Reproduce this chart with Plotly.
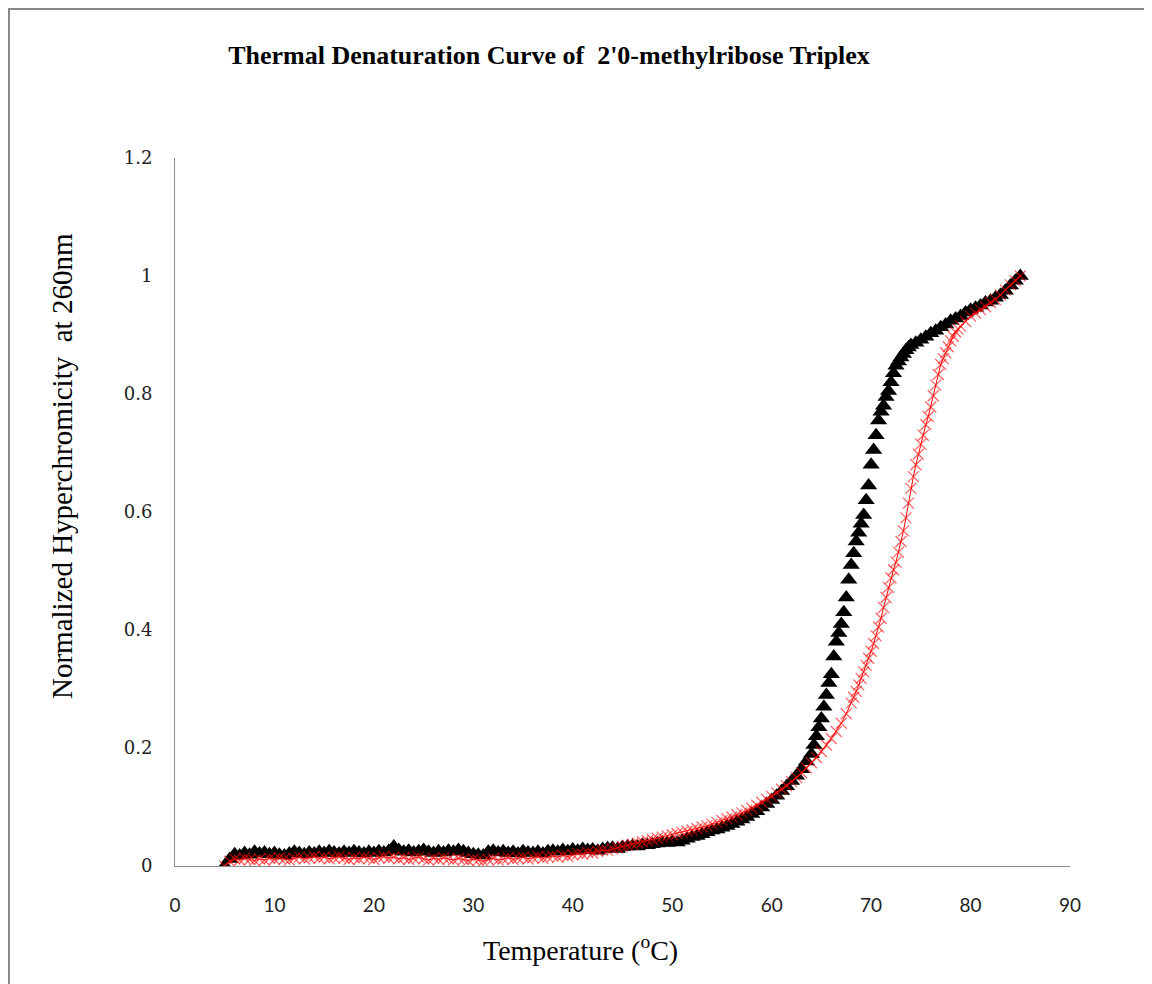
import plotly.graph_objects as go

# ---- Black triangles series ----
black_temp = [
    5.0, 5.5, 6.0, 6.5, 7.0, 7.5, 8.0, 8.5, 9.0, 9.5,
    10.0, 10.5, 11.0, 11.5, 12.0, 12.5, 13.0, 13.5, 14.0, 14.5,
    15.0, 15.5, 16.0, 16.5, 17.0, 17.5, 18.0, 18.5, 19.0, 19.5,
    20.0, 20.5, 21.0, 21.5, 22.0, 22.5, 23.0, 23.5, 24.0, 24.5,
    25.0, 25.5, 26.0, 26.5, 27.0, 27.5, 28.0, 28.5, 29.0, 29.5,
    30.0, 30.5, 31.0, 31.5, 32.0, 32.5, 33.0, 33.5, 34.0, 34.5,
    35.0, 35.5, 36.0, 36.5, 37.0, 37.5, 38.0, 38.5, 39.0, 39.5,
    40.0, 40.5, 41.0, 41.5, 42.0, 42.5, 43.0, 43.5, 44.0, 44.5,
    45.0, 45.5, 46.0, 46.5, 47.0, 47.5, 48.0, 48.5, 49.0, 49.5,
    50.0, 50.5, 51.0, 51.5, 52.0, 52.5, 53.0, 53.5, 54.0, 54.5,
    55.0, 55.5, 56.0, 56.5, 57.0, 57.5, 58.0, 58.5, 59.0, 59.5,
    60.0, 60.5, 61.0, 61.5, 62.0, 62.5, 63.0, 63.5,
    64.0, 64.25, 64.5, 64.75, 65.0, 65.25, 65.5, 65.75, 66.0, 66.25,
    66.5, 66.75, 67.0, 67.25, 67.5, 67.75, 68.0, 68.25, 68.5, 68.75,
    69.0, 69.25, 69.5, 69.75, 70.0, 70.25, 70.5, 70.75, 71.0, 71.25,
    71.5, 71.75, 72.0, 72.25, 72.5, 72.75, 73.0, 73.25, 73.5, 73.75,
    74.0,
    74.5, 75.0, 75.5, 76.0, 76.5, 77.0, 77.5, 78.0, 78.5, 79.0,
    79.5, 80.0, 80.5, 81.0, 81.5, 82.0, 82.5, 83.0, 83.5, 84.0,
    84.5, 85.0,
]
black_value = [
    0.000, 0.012, 0.020, 0.018, 0.022, 0.019, 0.024, 0.021, 0.023, 0.020,
    0.022, 0.019, 0.018, 0.021, 0.024, 0.022, 0.020, 0.023, 0.021, 0.024,
    0.022, 0.025, 0.023, 0.021, 0.024, 0.022, 0.025, 0.023, 0.021, 0.024,
    0.022, 0.025, 0.023, 0.026, 0.033, 0.027, 0.024, 0.026, 0.023, 0.025,
    0.027, 0.024, 0.022, 0.025, 0.023, 0.026, 0.024, 0.027, 0.025, 0.022,
    0.020, 0.019, 0.018, 0.024, 0.026, 0.023, 0.025, 0.022, 0.024, 0.021,
    0.025, 0.023, 0.022, 0.024, 0.021, 0.025, 0.026, 0.024, 0.027, 0.025,
    0.028, 0.026, 0.029, 0.027, 0.028, 0.026, 0.029, 0.030, 0.031, 0.029,
    0.032, 0.033, 0.034, 0.033, 0.036, 0.035, 0.037, 0.038, 0.040, 0.039,
    0.041, 0.040, 0.043, 0.046, 0.049, 0.051, 0.054, 0.057, 0.060, 0.062,
    0.065, 0.068, 0.071, 0.075, 0.079, 0.083, 0.088, 0.093, 0.099, 0.105,
    0.112, 0.119, 0.127, 0.135, 0.144, 0.153, 0.164, 0.177,
    0.190, 0.205, 0.220, 0.235, 0.250, 0.270, 0.290, 0.310, 0.325, 0.355,
    0.380, 0.395, 0.410, 0.430, 0.455, 0.485, 0.510, 0.530, 0.550, 0.565,
    0.580, 0.595, 0.620, 0.645, 0.680, 0.705, 0.730, 0.755, 0.770, 0.780,
    0.795, 0.805, 0.820, 0.835, 0.848, 0.855, 0.862, 0.868, 0.874, 0.879,
    0.883,
    0.887, 0.892, 0.897, 0.903, 0.907, 0.913, 0.918, 0.924, 0.928, 0.932,
    0.938, 0.943, 0.946, 0.950, 0.955, 0.958, 0.963, 0.968, 0.975, 0.984,
    0.992, 1.000,
]

# ---- Red crosses series ----
red_temp = [
    5.0, 5.5, 6.0, 6.5, 7.0, 7.5, 8.0, 8.5, 9.0, 9.5,
    10.0, 10.5, 11.0, 11.5, 12.0, 12.5, 13.0, 13.5, 14.0, 14.5,
    15.0, 15.5, 16.0, 16.5, 17.0, 17.5, 18.0, 18.5, 19.0, 19.5,
    20.0, 20.5, 21.0, 21.5, 22.0, 22.5, 23.0, 23.5, 24.0, 24.5,
    25.0, 25.5, 26.0, 26.5, 27.0, 27.5, 28.0, 28.5, 29.0, 29.5,
    30.0, 30.5, 31.0, 31.5, 32.0, 32.5, 33.0, 33.5, 34.0, 34.5,
    35.0, 35.5, 36.0, 36.5, 37.0, 37.5, 38.0, 38.5, 39.0, 39.5,
    40.0, 40.5, 41.0, 41.5, 42.0, 42.5, 43.0, 43.5, 44.0, 44.5,
    45.0, 45.5, 46.0, 46.5, 47.0, 47.5, 48.0, 48.5, 49.0, 49.5,
    50.0, 50.5, 51.0, 51.5, 52.0, 52.5, 53.0, 53.5, 54.0, 54.5,
    55.0, 55.5, 56.0, 56.5, 57.0, 57.5, 58.0, 58.5, 59.0, 59.5,
    60.0, 60.5, 61.0, 61.5, 62.0, 62.5, 63.0, 63.5, 64.0, 64.5,
    65.0, 65.5, 66.0, 66.5, 67.0, 67.5,
    68.0, 68.25, 68.5, 68.75, 69.0, 69.25, 69.5, 69.75, 70.0, 70.25,
    70.5, 70.75, 71.0, 71.25, 71.5, 71.75, 72.0, 72.25, 72.5, 72.75,
    73.0, 73.25, 73.5, 73.75, 74.0, 74.25, 74.5, 74.75, 75.0, 75.25,
    75.5, 75.75, 76.0, 76.25, 76.5, 76.75, 77.0, 77.25, 77.5, 77.75,
    78.0, 78.25, 78.5, 78.75, 79.0,
    79.5, 80.0, 80.5, 81.0, 81.5, 82.0, 82.5, 83.0, 83.5, 84.0,
    84.5, 85.0,
]
red_value = [
    0.000, 0.008, 0.012, 0.010, 0.013, 0.011, 0.009, 0.012, 0.010, 0.013,
    0.011, 0.014, 0.012, 0.010, 0.013, 0.015, 0.012, 0.014, 0.016, 0.013,
    0.015, 0.012, 0.014, 0.016, 0.013, 0.011, 0.014, 0.012, 0.015, 0.013,
    0.011, 0.014, 0.016, 0.013, 0.015, 0.012, 0.014, 0.011, 0.013, 0.015,
    0.012, 0.010, 0.013, 0.011, 0.014, 0.012, 0.010, 0.013, 0.011, 0.009,
    0.012, 0.010, 0.008, 0.011, 0.013, 0.010, 0.012, 0.014, 0.011, 0.013,
    0.015, 0.012, 0.014, 0.016, 0.013, 0.015, 0.017, 0.015, 0.018, 0.016,
    0.019, 0.021, 0.020, 0.023, 0.022, 0.025, 0.027, 0.026, 0.029, 0.031,
    0.033, 0.035, 0.037, 0.039, 0.041, 0.043, 0.045, 0.047, 0.049, 0.051,
    0.053, 0.055, 0.057, 0.059, 0.061, 0.063, 0.066, 0.068, 0.071, 0.074,
    0.077, 0.080, 0.083, 0.087, 0.090, 0.094, 0.098, 0.103, 0.108, 0.113,
    0.118, 0.124, 0.130, 0.136, 0.143, 0.150, 0.158, 0.166, 0.175, 0.184,
    0.194, 0.205, 0.216, 0.228, 0.242, 0.258,
    0.276, 0.286, 0.296, 0.307, 0.318, 0.329, 0.340, 0.352, 0.364, 0.377,
    0.390, 0.405, 0.420, 0.438, 0.455, 0.472, 0.488, 0.502, 0.515, 0.532,
    0.550, 0.568, 0.590, 0.615, 0.640, 0.660, 0.680, 0.698, 0.715, 0.730,
    0.748, 0.762, 0.778, 0.797, 0.815, 0.833, 0.850, 0.860, 0.870, 0.880,
    0.890, 0.898, 0.905, 0.910, 0.915,
    0.923, 0.932, 0.937, 0.943, 0.948, 0.955, 0.960, 0.968, 0.976, 0.985,
    0.992, 1.000,
]

x_ticks = [0, 10, 20, 30, 40, 50, 60, 70, 80, 90]
y_ticks = [0, 0.2, 0.4, 0.6, 0.8, 1.0, 1.2]
y_tick_text = ["0", "0.2", "0.4", "0.6", "0.8", "1", "1.2"]

fig = go.Figure()
fig.add_trace(go.Scatter(
    x=black_temp, y=black_value, mode="markers", name="black",
    marker=dict(symbol="triangle-up", size=15, color="black"),
    showlegend=False,
))
fig.add_trace(go.Scatter(
    x=red_temp, y=red_value, mode="lines+markers", name="red",
    line=dict(color="red", width=1),
    marker=dict(symbol="x-thin", size=11,
                line=dict(width=1.3, color="rgba(255,0,0,0.6)")),
    showlegend=False,
))

# plot area (figure px): x 167..1062, y 150..858
L, R, T, B = 167, 1062, 150, 858
W, H = R - L, B - T

def px(xp):
    return (xp - L) / W

def py(yp):
    return (B - yp) / H

axis_gray = "#8c8c8c"
fig.update_layout(
    width=1152, height=984,
    margin=dict(l=L, r=1152 - R, t=T, b=984 - B),
    paper_bgcolor="white", plot_bgcolor="white",
    title=dict(
        text="<b>Thermal Denaturation Curve of  2'0-methylribose Triplex</b>",
        x=541 / 1152, xanchor="center", y=1 - 47 / 984, yanchor="middle",
        font=dict(family="Liberation Serif", size=26, color="black"),
    ),
    xaxis=dict(
        range=[0, 90], tickvals=x_ticks, showgrid=False, zeroline=False,
        showline=True, linecolor=axis_gray, linewidth=1, ticks="",
        tickfont=dict(family="Lato", size=19, color="#222"),
        ticklabelstandoff=22,
    ),
    yaxis=dict(
        range=[0, 1.2], tickvals=y_ticks, ticktext=y_tick_text,
        showgrid=False, zeroline=False,
        showline=True, linecolor=axis_gray, linewidth=1, ticks="",
        tickfont=dict(family="DejaVu Serif", size=18, color="#222"),
        ticklabelstandoff=18,
    ),
)

fig.add_annotation(
    text="Normalized Hyperchromicity  at 260nm", textangle=-90,
    xref="paper", yref="paper", x=px(54), y=py(458),
    xanchor="center", yanchor="middle", showarrow=False,
    font=dict(family="Liberation Serif", size=29, color="black"),
)
fig.add_annotation(
    text="Temperature (<sup>o</sup>C)",
    xref="paper", yref="paper", x=px(572), y=py(940),
    xanchor="center", yanchor="middle", showarrow=False,
    font=dict(family="Liberation Serif", size=28, color="black"),
)

# outer chart border
fig.add_shape(type="rect", xref="paper", yref="paper",
              x0=px(1), x1=px(1142), y0=py(1000), y1=py(1),
              line=dict(color="#888888", width=2), fillcolor="rgba(0,0,0,0)",
              layer="below")

fig.write_html("out.html")
